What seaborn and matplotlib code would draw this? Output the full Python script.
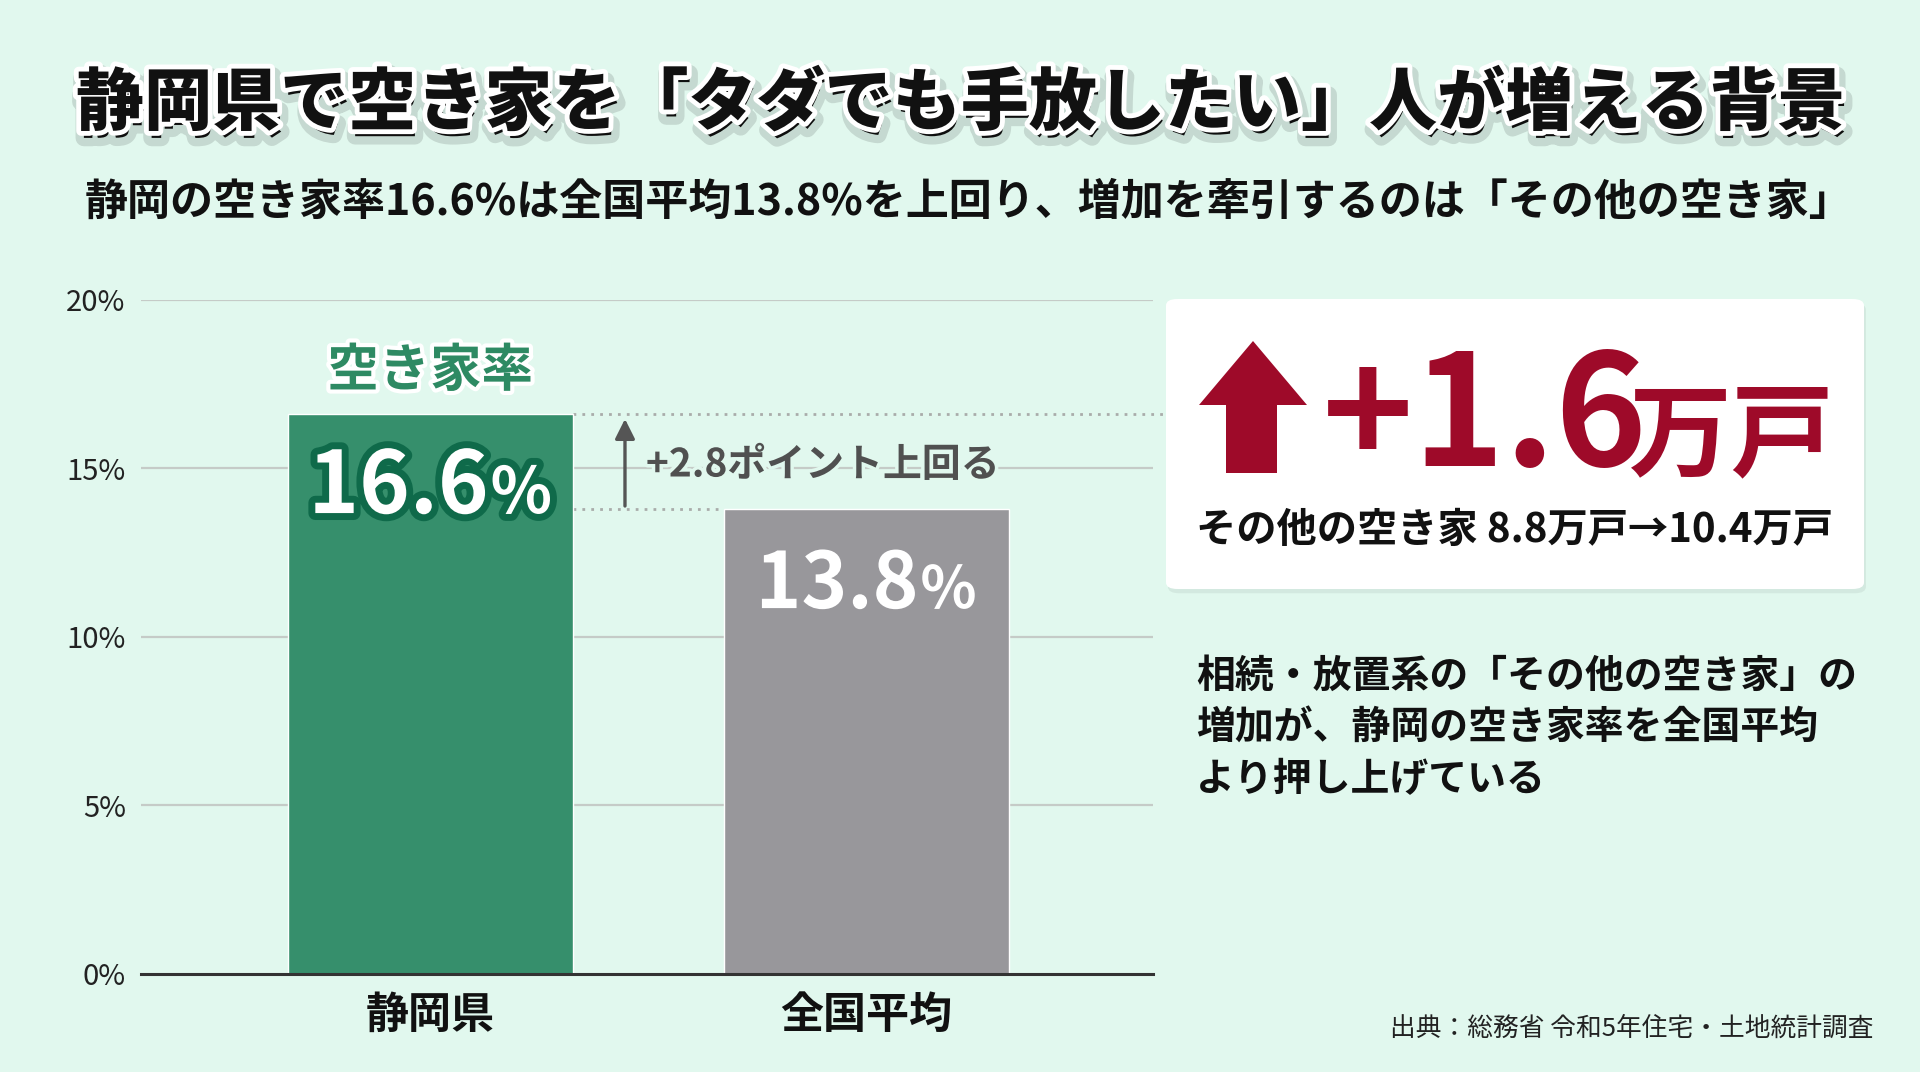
import matplotlib
matplotlib.use("Agg")
import matplotlib.pyplot as plt
import matplotlib.patheffects as pe
from matplotlib.patches import FancyBboxPatch, Polygon
import seaborn as sns
import pandas as pd

# ---- data ----
categories = ["静岡県", "全国平均"]
vacancy_rate = [16.6, 13.8]
bar_colors = ["#368f6c", "#98979b"]
y_ticks = [0, 5, 10, 15, 20]
y_tick_labels = ["0%", "5%", "10%", "15%", "20%"]
diff_label = "+2.8ポイント上回る"
rate_label = "空き家率"
big_number = "+1.6"
big_unit = "万戸"
other_vacant = "その他の空き家 8.8万戸→10.4万戸"
note_text = "相続・放置系の「その他の空き家」の\n増加が、静岡の空き家率を全国平均\nより押し上げている"
title = "静岡県で空き家を「タダでも手放したい」人が増える背景"
subtitle = "静岡の空き家率16.6%は全国平均13.8%を上回り、増加を牽引するのは「その他の空き家」"
source = "出典：総務省 令和5年住宅・土地統計調査"

sns.set_theme(style="white")
FONTS = ["Noto Sans CJK JP", "DejaVu Sans"]
plt.rcParams["font.family"] = FONTS

W, H = 1920, 1072
BG = "#e1f8ee"
fig = plt.figure(figsize=(W / 100, H / 100), dpi=100, facecolor=BG)

def fx(px):
    return px / W

def fy(py):
    return 1 - py / H

# ---- main axes ----
ax = fig.add_axes([fx(141), fy(973.5), fx(1153) - fx(141), fy(300) - fy(973.5)])
ax.set_facecolor("none")
df = pd.DataFrame({"cat": categories, "rate": vacancy_rate})
sns.barplot(data=df, x="cat", y="rate", hue="cat", palette=bar_colors,
            legend=False, width=0.654, saturation=1, ax=ax, zorder=3)
ax.set_xlim(-0.663, 1.658)
ax.set_ylim(0, 20)
ax.set_yticks(y_ticks)
ax.set_yticklabels(y_tick_labels, fontsize=21, color="#222222")
ax.tick_params(axis="y", length=0, pad=11)
ax.tick_params(axis="x", length=0, pad=14)
for lab in ax.get_xticklabels():
    lab.set_fontsize(31)
    lab.set_fontweight("bold")
    lab.set_color("#111111")
ax.set_xlabel("")
ax.set_ylabel("")
for yv in y_ticks[1:]:
    ax.axhline(yv, color="#c5cbc7", lw=1.6, zorder=1)
for s in ["top", "right", "left"]:
    ax.spines[s].set_visible(False)
ax.spines["bottom"].set_color("#333333")
ax.spines["bottom"].set_linewidth(2.2)
ax.spines["bottom"].set_zorder(4)

half = 0.654 / 2
# dotted reference lines
ax.plot([half, 1.69], [vacancy_rate[0]] * 2, ls=(0, (1, 2.2)), color="#a9acaa",
        lw=2, clip_on=False, zorder=2)
ax.plot([half, 1 - half], [vacancy_rate[1]] * 2, ls=(0, (1, 2.2)), color="#a9acaa",
        lw=2, zorder=2)
# difference arrow
ax.annotate("", xy=(0.447, vacancy_rate[0] - 0.05), xytext=(0.447, vacancy_rate[1]),
            arrowprops=dict(arrowstyle="-|>,head_length=1.0,head_width=0.5",
                            color="#555555", lw=2.4), zorder=5)
ax.text(0.495, 15.1, diff_label, fontsize=28, fontweight="bold", color="#505050",
        ha="left", va="center", zorder=5,
        path_effects=[pe.Stroke(linewidth=5, foreground=BG), pe.Normal()])
# label above bar
ax.text(0, 17.9, rate_label, fontsize=37, fontweight="bold", color="#2e8a63",
        ha="center", va="center", zorder=5,
        path_effects=[pe.Stroke(linewidth=6, foreground="white"), pe.Normal()])

renderer = fig.canvas.get_renderer()

def value_label(xc, yc, num, size_num, size_pct, effects):
    t1 = ax.text(0, 0, num, fontsize=size_num, fontweight="bold", color="white",
                 ha="left", va="baseline", zorder=6, path_effects=effects)
    t2 = ax.text(0, 0, "%", fontsize=size_pct, fontweight="bold", color="white",
                 ha="left", va="baseline", zorder=6, path_effects=effects)
    w1 = t1.get_window_extent(renderer).width
    w2 = t2.get_window_extent(renderer).width
    h1 = t1.get_window_extent(renderer).height
    total = w1 + w2 + 2
    cx, cy = ax.transData.transform((xc, yc))
    x0 = cx - total / 2
    base = cy - h1 * 0.33
    inv = ax.transData.inverted()
    t1.set_position(inv.transform((x0, base)))
    t2.set_position(inv.transform((x0 + w1 + 2, base)))

value_label(0, 14.54, f"{vacancy_rate[0]:.1f}", 62, 46,
            [pe.Stroke(linewidth=10, foreground="#0f6a4a"), pe.Normal()])
value_label(1, 11.63, f"{vacancy_rate[1]:.1f}", 56, 42, [pe.Normal()])

# ---- card ----
shadow = FancyBboxPatch((fx(1166) + 0.001, fy(589) - 0.004), fx(1864) - fx(1166),
                        fy(299) - fy(589), boxstyle="round,pad=0,rounding_size=0.006",
                        transform=fig.transFigure, facecolor="#000000", alpha=0.06,
                        edgecolor="none", zorder=0)
fig.patches.append(shadow)
card = FancyBboxPatch((fx(1166), fy(589)), fx(1864) - fx(1166), fy(299) - fy(589),
                      boxstyle="round,pad=0,rounding_size=0.006",
                      transform=fig.transFigure, facecolor="white",
                      edgecolor="none", zorder=1)
fig.patches.append(card)
RED = "#9e0a29"
arrow_pts = [(1253, 341), (1307, 405), (1277, 405), (1277, 473),
             (1226, 473), (1226, 405), (1199, 405)]
fig.patches.append(Polygon([(fx(a), fy(b)) for a, b in arrow_pts], closed=True,
                           transform=fig.transFigure, facecolor=RED,
                           edgecolor="none", zorder=2))
fig.text(fx(1322), fy(466), big_number, fontsize=112, fontweight="bold",
         color=RED, ha="left", va="baseline", zorder=3)
fig.text(fx(1629), fy(468), big_unit, fontsize=74, fontweight="bold",
         color=RED, ha="left", va="baseline", zorder=3)
fig.text(fx(1515), fy(530), other_vacant, fontsize=29, fontweight="bold",
         color="#111111", ha="center", va="center", zorder=3)

# ---- note ----
fig.text(fx(1196), fy(657), note_text, fontsize=28, fontweight="bold",
         color="#111111", ha="left", va="top", linespacing=1.40)

# ---- titles ----
fig.text(0.5, fy(104), title, fontsize=49, fontweight="heavy", color="#111111",
         ha="center", va="center",
         path_effects=[pe.Stroke(linewidth=12, foreground=(0, 0, 0, 0.12), offset=(2, -5)),
                       pe.Stroke(linewidth=7, foreground="white"), pe.Normal()])
fig.text(fx(969), fy(202), subtitle, fontsize=31, fontweight="bold", color="#111111",
         ha="center", va="center")
fig.text(fx(1873), fy(1029), source, fontsize=18.5, color="#222222",
         ha="right", va="center")

fig.savefig("out.png", dpi=100, facecolor=BG)
